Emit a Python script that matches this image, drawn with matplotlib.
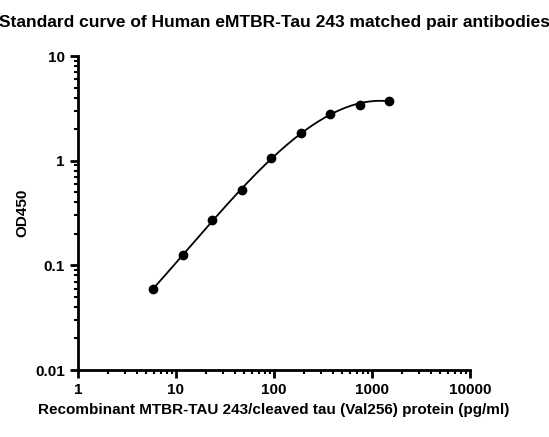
import numpy as np
import matplotlib
matplotlib.use("Agg")
import matplotlib.pyplot as plt
from matplotlib.ticker import LogLocator, FixedFormatter, FixedLocator

conc = [5.86, 11.72, 23.44, 46.88, 93.75, 187.5, 375, 750, 1500]
od = [0.06, 0.125, 0.27, 0.52, 1.05, 1.85, 2.8, 3.4, 3.75]

plt.rcParams['font.family'] = ['Liberation Sans', 'DejaVu Sans']
plt.rcParams['font.weight'] = 'bold'
fig = plt.figure(figsize=(5.49, 4.37), dpi=100)
ax = fig.add_axes([78/549, 1-370/437, (470-78)/549, (370-56)/437])

lx, ly = np.log10(conc), np.log10(od)
coef = np.polyfit(lx, ly, 3)
xs = np.linspace(lx[0], lx[-1], 200)
ax.plot(10**xs, 10**np.polyval(coef, xs), color='black', lw=1.3)
ax.plot(conc, od, 'o', color='black', ms=6)

ax.set_xscale('log'); ax.set_yscale('log')
ax.set_xlim(1, 10000); ax.set_ylim(0.01, 10)
ax.set_xticks([1, 10, 100, 1000, 10000])
ax.set_xticklabels(['1', '10', '100', '1000', '10000'])
ax.set_yticks([0.01, 0.1, 1, 10])
ax.set_yticklabels(['0.01', '0.1', '1', '10'])
ax.xaxis.set_minor_locator(LogLocator(base=10, subs=np.arange(2, 10)))
ax.yaxis.set_minor_locator(LogLocator(base=10, subs=np.arange(2, 10)))
ax.tick_params(which='major', length=6, width=2, labelsize=11)
ax.tick_params(which='minor', length=3, width=1.5, labelleft=False, labelbottom=False)
for s in ['top', 'right']:
    ax.spines[s].set_visible(False)
for s in ['left', 'bottom']:
    ax.spines[s].set_linewidth(2)
ax.set_xlabel('Recombinant MTBR-TAU 243/cleaved tau (Val256) protein (pg/ml)', fontsize=11, fontweight='bold')
ax.set_ylabel('OD450', fontsize=11, fontweight='bold')
fig.suptitle('Standard curve of Human eMTBR-Tau 243 matched pair antibodies', x=0.5, y=0.965, fontsize=12.5, fontweight='bold')
fig.savefig('out.png', dpi=100)
